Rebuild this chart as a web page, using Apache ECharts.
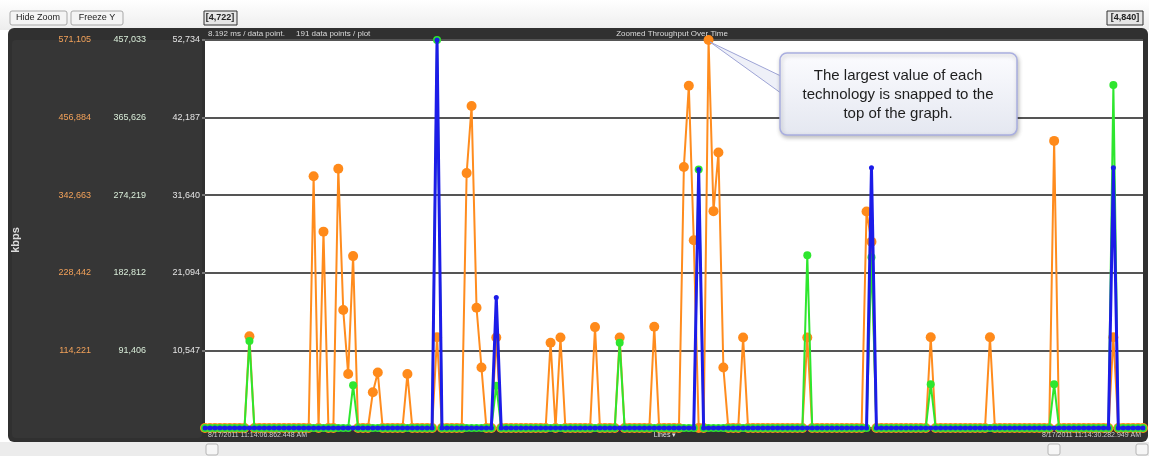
<!DOCTYPE html>
<html>
<head>
<meta charset="utf-8">
<script src="https://cdn.jsdelivr.net/npm/echarts@6/dist/echarts.min.js"></script>
<style>
  html, body { margin: 0; padding: 0; background: #fff; }
  #chart { width: 1149px; height: 456px; }
</style>
</head>
<body>
<div id="chart"></div>
<script>
// 191 samples per plot, only the non-zero ones are listed (everything else is 0)
const POINTS = 191;

const orangeIdx = [9, 22, 24, 27, 28, 29, 30, 34, 35, 41, 47, 53, 54, 55, 56, 59, 70, 72, 79, 84, 91, 97, 98, 99, 102, 103, 104, 105, 109, 122, 134, 135, 147, 159, 172, 184];
const orangeVal = [135000, 370600, 289000, 381500, 173600, 79400, 253000, 52500, 81700, 79400, 133600, 375200, 474000, 177000, 89100, 133100, 125600, 133100, 148500, 133100, 149100, 384300, 503700, 276400, 571105, 319200, 405500, 89100, 133100, 133100, 318700, 274100, 133600, 133600, 422600, 133600];

const greenIdx = [9, 30, 47, 59, 84, 100, 122, 135, 147, 172, 184];
const greenVal = [102400, 50300, 457033, 49800, 100500, 304400, 203400, 201100, 51600, 51600, 404000];

const blueIdx = [47, 59, 100, 135, 184];
const blueVal = [52734, 17720, 35120, 35380, 35380];

// each technology gets its own scale, max snapped to the top
const orangeMax = 571105;
const greenMax = 457033;
const blueMax = 52734;

const orangeTicks = ['114,221', '228,442', '342,663', '456,884', '571,105'];
const greenTicks = ['91,406', '182,812', '274,219', '365,626', '457,033'];
const blueTicks = ['10,547', '21,094', '31,640', '42,187', '52,734'];

const fillSeries = (idx, val) => {
  const out = new Array(POINTS).fill(0);
  idx.forEach((k, i) => { out[k] = val[i]; });
  return out;
};

const categories = Array.from({ length: POINTS }, (_, i) => i);

const tickFormatter = (ticks, max) => (v) => {
  if (v <= 0) return '';
  return ticks[Math.round(v / (max / 5)) - 1] || '';
};

const makeAxis = (max, ticks, offset, color, isMain) => ({
  type: 'value',
  min: 0,
  max: max,
  interval: max / 5,
  position: 'left',
  offset: offset,
  axisLine: { show: false },
  axisTick: { show: isMain, length: 3, lineStyle: { color: '#777', width: 2 } },
  axisLabel: {
    color: color,
    fontSize: 9,
    fontFamily: 'Liberation Sans',
    margin: 5,
    formatter: tickFormatter(ticks, max)
  },
  splitLine: { show: isMain, lineStyle: { color: '#555', width: 2 } }
});

const chart = echarts.init(document.getElementById('chart'));

chart.setOption({
  animation: false,
  grid: { left: 205, right: 6, top: 40, bottom: 28 },
  xAxis: {
    type: 'category',
    data: categories,
    boundaryGap: false,
    axisLine: { show: false },
    axisTick: { show: false },
    axisLabel: { show: false },
    splitLine: { show: false }
  },
  yAxis: [
    makeAxis(blueMax, blueTicks, 0, '#e4e4e4', true),
    makeAxis(greenMax, greenTicks, 54, '#d8ecd8', false),
    makeAxis(orangeMax, orangeTicks, 109, '#f3a25a', false)
  ],
  series: [
    {
      type: 'line',
      yAxisIndex: 2,
      data: fillSeries(orangeIdx, orangeVal),
      showAllSymbol: true,
      symbol: 'circle',
      symbolSize: 10,
      lineStyle: { color: '#ff8c1e', width: 2 },
      itemStyle: { color: '#ff8a1a' },
      z: 2
    },
    {
      type: 'line',
      yAxisIndex: 1,
      data: fillSeries(greenIdx, greenVal),
      showAllSymbol: true,
      symbol: 'circle',
      symbolSize: 8,
      lineStyle: { color: '#2ee62e', width: 2 },
      itemStyle: { color: '#2ee62e' },
      z: 3
    },
    {
      type: 'line',
      yAxisIndex: 0,
      data: fillSeries(blueIdx, blueVal),
      showAllSymbol: true,
      symbol: 'circle',
      symbolSize: 5,
      lineStyle: { color: '#1c1ce8', width: 3 },
      itemStyle: { color: '#1c1ce8' },
      z: 4
    }
  ],
  graphic: [
    // window chrome
    { type: 'rect', z: -10, shape: { x: 0, y: 0, width: 1149, height: 30 },
      style: { fill: new echarts.graphic.LinearGradient(0, 0, 0, 1, [
        { offset: 0, color: '#ffffff' }, { offset: 1, color: '#ededed' }]) } },
    { type: 'rect', z: -10, shape: { x: 8, y: 28, width: 1140, height: 414, r: 6 },
      style: { fill: '#303030' } },
    { type: 'rect', z: -9, shape: { x: 12, y: 40, width: 190, height: 398, r: 4 },
      style: { fill: '#363636' } },
    { type: 'rect', z: -9, shape: { x: 205, y: 40, width: 938, height: 388 },
      style: { fill: '#ffffff' } },
    { type: 'rect', z: -10, shape: { x: 0, y: 442, width: 1149, height: 14 },
      style: { fill: '#ececec' } },

    // buttons
    { type: 'rect', z: 5, shape: { x: 10, y: 11, width: 57, height: 14, r: 2 },
      style: { fill: '#f4f4f4', stroke: '#a8a8a8' } },
    { type: 'text', z: 6, style: { text: 'Hide Zoom', x: 38, y: 18, align: 'center', verticalAlign: 'middle',
      font: '9px "Liberation Sans"', fill: '#222' } },
    { type: 'rect', z: 5, shape: { x: 71, y: 11, width: 52, height: 14, r: 2 },
      style: { fill: '#f4f4f4', stroke: '#a8a8a8' } },
    { type: 'text', z: 6, style: { text: 'Freeze Y', x: 97, y: 18, align: 'center', verticalAlign: 'middle',
      font: '9px "Liberation Sans"', fill: '#222' } },
    { type: 'rect', z: 5, shape: { x: 204, y: 11, width: 33, height: 14 },
      style: { fill: '#e6e6e6', stroke: '#333' } },
    { type: 'text', z: 6, style: { text: '[4,722]', x: 220, y: 18, align: 'center', verticalAlign: 'middle',
      font: 'bold 9px "Liberation Sans"', fill: '#222' } },
    { type: 'rect', z: 5, shape: { x: 1107, y: 11, width: 36, height: 14 },
      style: { fill: '#e6e6e6', stroke: '#333' } },
    { type: 'text', z: 6, style: { text: '[4,840]', x: 1125, y: 18, align: 'center', verticalAlign: 'middle',
      font: 'bold 9px "Liberation Sans"', fill: '#222' } },

    // title bar
    { type: 'text', z: 6, style: { text: '8.192 ms / data point.     191 data points / plot', x: 208, y: 34,
      verticalAlign: 'middle', font: '8px "Liberation Sans"', fill: '#dcdcdc' } },
    { type: 'text', z: 6, style: { text: 'Zoomed Throughput Over Time', x: 672, y: 34, align: 'center',
      verticalAlign: 'middle', font: '8px "Liberation Sans"', fill: '#dcdcdc' } },

    // bottom bar
    { type: 'text', z: 6, style: { text: '8/17/2011 11:14:06.862.448 AM', x: 208, y: 435,
      verticalAlign: 'middle', font: '7px "Liberation Sans"', fill: '#cfcfcf' } },
    { type: 'text', z: 6, style: { text: 'Lines \u25be', x: 665, y: 435, align: 'center',
      verticalAlign: 'middle', font: '7px "Liberation Sans"', fill: '#e0e0e0' } },
    { type: 'text', z: 6, style: { text: '8/17/2011 11:14:30.282.949 AM', x: 1141, y: 435, align: 'right',
      verticalAlign: 'middle', font: '7px "Liberation Sans"', fill: '#cfcfcf' } },
    { type: 'rect', z: 5, shape: { x: 206, y: 444, width: 12, height: 11, r: 2 },
      style: { fill: '#f6f6f6', stroke: '#b5b5b5' } },
    { type: 'rect', z: 5, shape: { x: 1048, y: 444, width: 12, height: 11, r: 2 },
      style: { fill: '#f6f6f6', stroke: '#b5b5b5' } },
    { type: 'rect', z: 5, shape: { x: 1136, y: 444, width: 12, height: 11, r: 2 },
      style: { fill: '#f6f6f6', stroke: '#b5b5b5' } },

    // axis name
    { type: 'text', z: 6, x: 16, y: 240, rotation: Math.PI / 2,
      style: { text: 'kbps', align: 'center', verticalAlign: 'middle',
        font: 'bold 11px "Liberation Sans"', fill: '#dcdcdc' } },

    // callout
    { type: 'polygon', z: 20, shape: { points: [[710, 42], [785, 78], [785, 96]] },
      style: { fill: '#eef0f8', stroke: '#9ea4d6', lineWidth: 1 } },
    { type: 'rect', z: 21, shape: { x: 780, y: 53, width: 237, height: 82, r: 7 },
      style: {
        fill: new echarts.graphic.LinearGradient(0, 0, 0, 1, [
          { offset: 0, color: '#fcfcff' }, { offset: 1, color: '#e4e7f0' }]),
        stroke: '#a9aee0', lineWidth: 1.5,
        shadowBlur: 4, shadowColor: 'rgba(0,0,0,0.25)', shadowOffsetX: 1, shadowOffsetY: 2
      } },
    { type: 'text', z: 22, style: {
        text: 'The largest value of each\ntechnology is snapped to the\ntop of the graph.',
        x: 898, y: 95, align: 'center', verticalAlign: 'middle', lineHeight: 19,
        font: '15px "Liberation Sans"', fill: '#1e1e1e' } }
  ]
});
</script>
</body>
</html>
